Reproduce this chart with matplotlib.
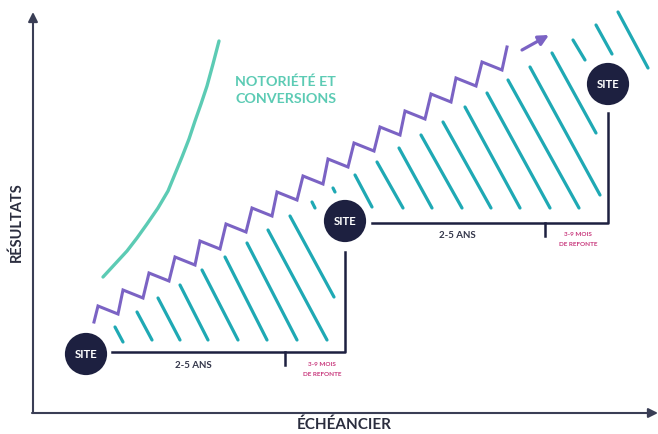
import matplotlib
matplotlib.use("Agg")
import matplotlib.pyplot as plt
from matplotlib.patches import Circle

plt.rcParams['font.family'] = ['Lato', 'DejaVu Sans']

# colours
navy = '#1d2040'
axis_col = '#3a3e55'
purple = '#7b63c4'
teal = '#1fa9b4'
mint = '#5ccbb4'
pink = '#c8387c'

# zigzag (purple) - start point, peaks and valleys
zig_start = (94, 322)
peak_x = [98, 123, 149, 175, 200, 226, 252, 277, 303, 328, 354, 380, 405, 431, 456, 482, 507]
peak_y = [306, 290, 273, 257, 241, 224, 208, 192, 176, 159, 143, 127, 111, 94, 78, 62, 47]
valley_x = [118, 143, 169, 195, 220, 246, 272, 297, 323, 348, 374, 400, 425, 451, 476, 502]
valley_y = [314, 298, 281, 265, 249, 232, 216, 200, 184, 167, 151, 135, 119, 102, 86, 70]
arrow_from = (522, 50)
arrow_to = (549, 35)

# teal stripes: top point -> bottom point
stripe_x0 = [115, 137, 158, 180, 202, 225, 247, 268, 290, 312,
             333, 355, 377, 399, 421, 443, 465, 487, 508, 530, 552, 573, 596, 618]
stripe_y0 = [327, 312, 298, 285, 270, 257, 243, 230, 216, 202,
             188, 175, 162, 148, 135, 122, 107, 93, 80, 67, 53, 40, 25, 12]
stripe_x1 = [123, 152, 180, 208, 238, 267, 297, 327, 334, 315,
             335, 372, 403, 432, 462, 491, 520, 550, 579, 600, 596, 585, 612, 648]
stripe_y1 = [342, 340, 340, 340, 340, 340, 340, 340, 297, 208,
             192, 207, 208, 208, 208, 208, 208, 208, 208, 195, 133, 60, 54, 68]

# green curve (notoriete)
curve_x = [103, 115, 127, 137, 147, 158, 168, 175, 182, 189, 195, 201, 207, 213, 219]
curve_y = [277, 264, 251, 238, 224, 208, 191, 174, 157, 139, 121, 104, 86, 64, 41]

# sites
site_x = [86, 345, 608]
site_y = [354, 221, 84]
site_r = 22.5

# steps (dark lines)
step1_x = [112, 345, 345]
step1_y = [352, 352, 252]
step2_x = [372, 608, 608]
step2_y = [223, 223, 113]
tick_x = [285, 545]
tick_y0 = [352, 223]
tick_y1 = [365, 236]

# labels
dur_label = '2-5 ANS'
dur_pos = [(193, 366), (457, 235)]
ref_pos = [(322, 365), (578, 235)]

fig = plt.figure(figsize=(6.58, 4.34), dpi=100)
ax = fig.add_axes([0, 0, 1, 1])
ax.set_xlim(0, 658)
ax.set_ylim(434, 0)
ax.axis('off')

# axes arrows
ax.annotate('', xy=(33, 12), xytext=(33, 413),
            arrowprops=dict(arrowstyle='-|>', lw=1.5, color=axis_col, mutation_scale=14, shrinkA=0, shrinkB=0))
ax.annotate('', xy=(658, 413), xytext=(32, 413),
            arrowprops=dict(arrowstyle='-|>', lw=1.5, color=axis_col, mutation_scale=14, shrinkA=0, shrinkB=0))
ax.text(17, 222, 'RÉSULTATS', rotation=90, ha='center', va='center',
        fontsize=10.5, fontweight='bold', color='#2a2d3e')
ax.text(344, 425, 'ÉCHÉANCIER', ha='center', va='center',
        fontsize=11, fontweight='bold', color='#2a2d3e')

# stripes
for x0, y0, x1, y1 in zip(stripe_x0, stripe_y0, stripe_x1, stripe_y1):
    ax.plot([x0, x1], [y0, y1], color=teal, lw=2.3, solid_capstyle='round')

# zigzag
zx = [zig_start[0]]
zy = [zig_start[1]]
for i in range(len(peak_x)):
    zx.append(peak_x[i])
    zy.append(peak_y[i])
    if i < len(valley_x):
        zx.append(valley_x[i])
        zy.append(valley_y[i])
ax.plot(zx, zy, color=purple, lw=2.2, solid_joinstyle='miter')
ax.annotate('', xy=arrow_to, xytext=arrow_from,
            arrowprops=dict(arrowstyle='-|>', lw=2.3, color=purple, mutation_scale=15, shrinkA=0, shrinkB=0))

# curve + text
ax.plot(curve_x, curve_y, color=mint, lw=2.4, solid_capstyle='round', solid_joinstyle='round')
ax.text(235, 82, 'NOTORIÉTÉ ET', ha='left', va='center', fontsize=10.3, fontweight='bold', color=mint)
ax.text(235, 99, 'CONVERSIONS', ha='left', va='center', fontsize=10.3, fontweight='bold', color=mint)

# steps
ax.plot(step1_x, step1_y, color=navy, lw=1.8)
ax.plot(step2_x, step2_y, color=navy, lw=1.8)
for tx, a, b in zip(tick_x, tick_y0, tick_y1):
    ax.plot([tx, tx], [a, b], color=navy, lw=1.8)

for (px, py) in dur_pos:
    ax.text(px, py, dur_label, ha='center', va='center', fontsize=7, fontweight='bold', color='#33364a')
for (px, py) in ref_pos:
    ax.text(px, py, '3-9 MOIS', ha='center', va='center', fontsize=4.6, fontweight='bold', color=pink)
    ax.text(px, py + 9, 'DE REFONTE', ha='center', va='center', fontsize=4.6, fontweight='bold', color=pink)

# sites
for sx, sy in zip(site_x, site_y):
    ax.add_patch(Circle((sx, sy), site_r, facecolor=navy, edgecolor='white', lw=2, zorder=5))
    ax.text(sx, sy + 0.5, 'SITE', ha='center', va='center', fontsize=8.2, fontweight='bold',
            color='white', zorder=6)

plt.savefig('out.png', dpi=100)
